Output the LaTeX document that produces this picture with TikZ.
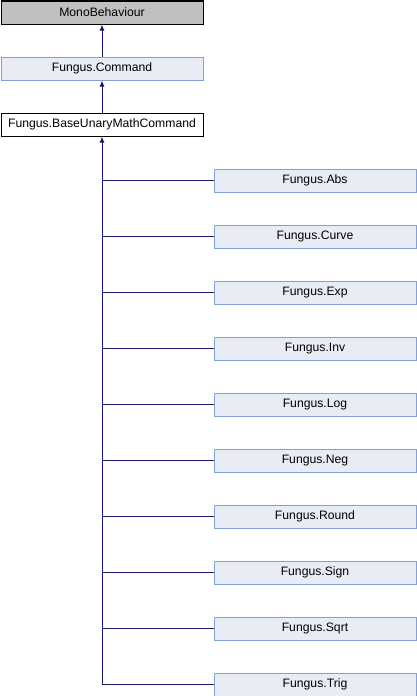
\documentclass[tikz,border=0pt]{standalone}
\usepackage{fontspec}
\setmainfont{Liberation Sans}
\usetikzlibrary{arrows.meta}
\definecolor{edgeblue}{HTML}{191970}
\definecolor{clsfill}{HTML}{E8ECF5}
\definecolor{clsline}{HTML}{84A0D0}
\definecolor{greyfill}{HTML}{C0C0C0}
\tikzset{
	cls/.style = {draw=clsline, fill=clsfill, line width=1pt, minimum width=202pt, minimum height=23pt,
		inner sep=0pt, anchor=north west, font=\fontsize{12.2}{14}\selectfont},
	greycls/.style = {cls, draw=black, fill=greyfill},
	basecls/.style = {cls, draw=black, fill=white},
	edge/.style = {draw=edgeblue, line width=1pt},
	inherit/.style = {edge, -{Latex[length=6pt,width=5pt]}}
}
\begin{document}
\begin{tikzpicture}[x = 1pt, y = -1pt]
	\useasboundingbox (0,0) rectangle (416,696);
	\node[greycls] (mono) at (0.5,0.5) {MonoBehaviour};
	\node[cls] (cmd) at (0.5,56.5) {Fungus.Command};
	\node[basecls] (base) at (0.5,112.5) {Fungus.BaseUnaryMathCommand};
	\draw[inherit] (cmd) -- (mono); %Command -> MonoBehaviour
	\draw[inherit] (base) -- (cmd);
	% derived commands
	\foreach \name [count=\i] in {Abs,Curve,Exp,Inv,Log,Neg,Round,Sign,Sqrt,Trig}
		\node[cls] (sub\i) at (213.5, {112.5+56*\i}) {Fungus.\name};
	\draw[inherit] (sub10.west) -| (base.south);
	\foreach \i in {1,...,9}
		\draw[edge] (sub\i.west) -- (sub\i.west -| base.south);
\end{tikzpicture}
\end{document}
